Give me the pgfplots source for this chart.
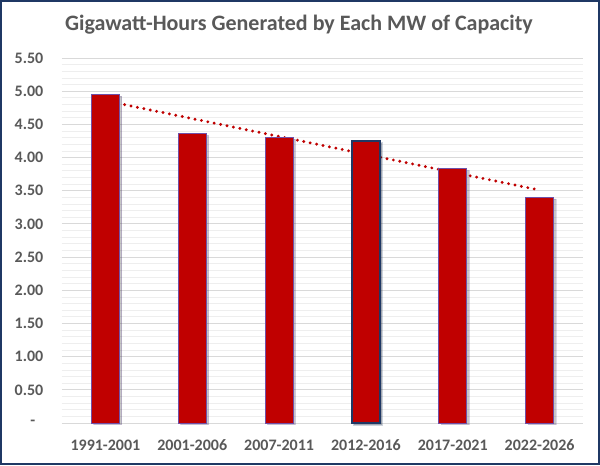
\documentclass[border=0pt]{standalone}
\usepackage{fontspec}
\setmainfont{Carlito}
\usepackage{pgfplots}
\pgfplotsset{compat=1.18}
\usetikzlibrary{shadows}
\definecolor{barred}{HTML}{C00000}
\definecolor{navy}{HTML}{1F3864}
\definecolor{txt}{HTML}{595959}
\definecolor{majgrid}{HTML}{D9D9D9}
\definecolor{mingrid}{HTML}{EEEEEE}
\definecolor{edge}{HTML}{7050A8}
\begin{document}
\begin{tikzpicture}[x=1pt,y=1pt]
\useasboundingbox (-46.5,-31.5) rectangle (403.5,317.25);
\fill[white] (-46.5,-31.5) rectangle (403.5,317.25);
\begin{axis}[
  at={(0,0)}, anchor=south west, scale only axis,
  width=390.75pt, height=273.75pt,
  xmin=0.5, xmax=6.5, ymin=0, ymax=5.5,
  xtick={1,2,3,4,5,6},
  xticklabels={1991-2001,2001-2006,2007-2011,2012-2016,2017-2021,2022-2026},
  ytick={0,0.5,1,1.5,2,2.5,3,3.5,4,4.5,5,5.5},
  yticklabels={-\hphantom{0},0.50,1.00,1.50,2.00,2.50,3.00,3.50,4.00,4.50,5.00,5.50},
  minor y tick num=4,
  ymajorgrids, yminorgrids,
  major grid style={majgrid, line width=0.75pt},
  minor grid style={mingrid, line width=0.6pt},
  axis line style={draw=none},
  major tick style={draw=none}, minor tick style={draw=none},
  ticklabel style={font=\bfseries\fontsize{12}{13}\selectfont, text=txt},
  xticklabel shift=5pt,
  yticklabel shift=10.5pt,
  ybar, bar width=21pt, bar shift=0pt,
  clip=false,
]
\addplot[sharp plot, barred, line width=2.4pt, line cap=round, dash pattern=on 0pt off 4.9pt, forget plot]
  coordinates {(1,4.856) (6,3.51)};
\addplot[fill=barred, draw=edge, line width=0.5pt,
  drop shadow={shadow xshift=1.8pt, shadow yshift=-1.2pt, fill=black, opacity=0.22}]
  coordinates {(1,4.95) (2,4.36) (3,4.30) (5,3.83) (6,3.40)};
\addplot[fill=barred, draw=navy, line width=1.4pt,
  drop shadow={shadow xshift=1.8pt, shadow yshift=-1.2pt, fill=black, opacity=0.22}]
  coordinates {(4,4.25)};
\end{axis}
\node[font=\bfseries\fontsize{16.5}{19}\selectfont, text=txt] at (177.75,298.5) {Gigawatt-Hours Generated by Each MW of Capacity};
\draw[navy, line width=1.5pt] (-45.75,-30.75) rectangle (402.75,316.5);
\end{tikzpicture}
\end{document}
